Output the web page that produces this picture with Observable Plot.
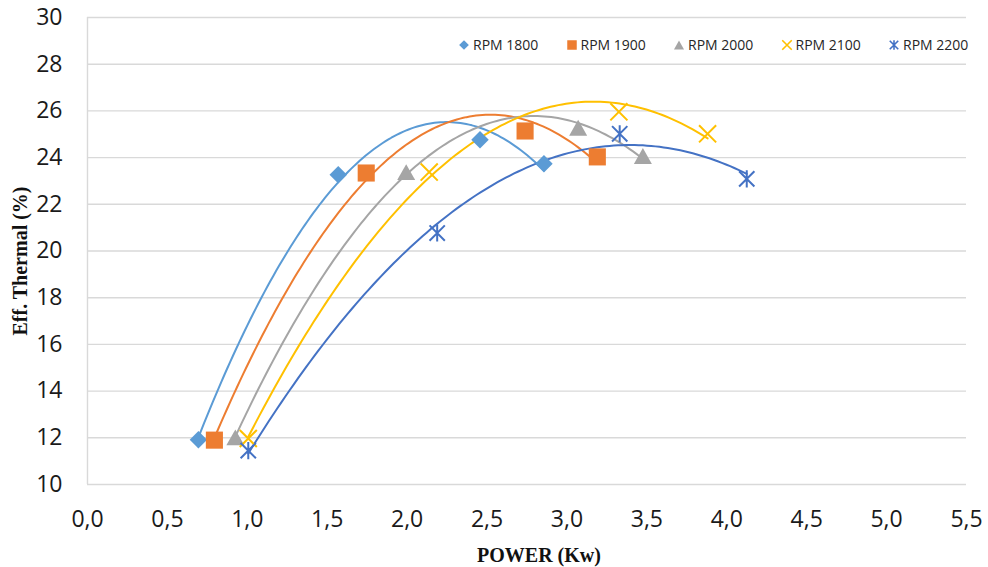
<!DOCTYPE html>
<html>
<head>
<meta charset="utf-8">
<script src="https://cdn.jsdelivr.net/npm/d3@7"></script>
<script src="https://cdn.jsdelivr.net/npm/@observablehq/plot@0.6"></script>
<style>
  body { margin: 0; background: #fff; }
  #chart { position: relative; width: 988px; height: 567px; }
  #legend { position: absolute; top: 35px; left: 459px; display: flex; font: 14px "Open Sans", sans-serif; color: #262626; }
  #legend .item { width: 107.5px; display: flex; align-items: center; white-space: nowrap; }
  #legend svg { margin-right: 4px; overflow: visible; }
</style>
</head>
<body>
<div id="chart"><div id="legend"></div></div>
<script>
// Thermal efficiency (%) against output power (kW), one series per engine speed
const rpmLabels = ["RPM 1800", "RPM 1900", "RPM 2000", "RPM 2100", "RPM 2200"];

const power1800 = [0.694, 1.569, 2.456, 2.856];
const eff1800   = [11.92, 23.27, 24.76, 23.74];

const power1900 = [0.794, 1.744, 2.738, 3.19];
const eff1900   = [11.90, 23.34, 25.14, 24.03];

const power2000 = [0.925, 1.994, 3.07, 3.475];
const eff2000   = [12.02, 23.38, 25.28, 24.07];

const power2100 = [1.006, 2.138, 3.325, 3.88];
const eff2100   = [11.97, 23.38, 25.96, 25.02];

const power2200 = [1.006, 2.188, 3.33, 4.125];
const eff2200   = [11.45, 20.77, 25.02, 23.09];

const seriesColors = ["#5B9BD5", "#ED7D31", "#A5A5A5", "#FFC000", "#4472C4"];

const xTicks = [0, 0.5, 1, 1.5, 2, 2.5, 3, 3.5, 4, 4.5, 5, 5.5];
const yTicks = [10, 12, 14, 16, 18, 20, 22, 24, 26, 28, 30];

// Marker shapes; the symbol size is πr², so r is recovered from it
const rad = (size) => Math.sqrt(size / Math.PI);
const symbols = {
  diamond: { draw(c, size) { const r = rad(size) * 0.97; c.moveTo(0, -r); c.lineTo(r, 0); c.lineTo(0, r); c.lineTo(-r, 0); c.closePath(); } },
  square: { draw(c, size) { const r = rad(size) * 0.95; c.rect(-r, -r, 2 * r, 2 * r); } },
  triangle: { draw(c, size) { const r = rad(size); c.moveTo(0, -0.88 * r); c.lineTo(r, 0.88 * r); c.lineTo(-r, 0.88 * r); c.closePath(); } },
  cross: { draw(c, size) { const r = rad(size) * 0.95; c.moveTo(-r, -r); c.lineTo(r, r); c.moveTo(-r, r); c.lineTo(r, -r); } },
  asterisk: { draw(c, size) { const r = rad(size), d = r * 0.85, v = r * 0.95; c.moveTo(-d, -d); c.lineTo(d, d); c.moveTo(-d, d); c.lineTo(d, -d); c.moveTo(0, -v); c.lineTo(0, v); } }
};

const series = [
  { name: rpmLabels[0], xs: power1800, ys: eff1800, color: seriesColors[0], symbol: symbols.diamond, filled: true },
  { name: rpmLabels[1], xs: power1900, ys: eff1900, color: seriesColors[1], symbol: symbols.square, filled: true },
  { name: rpmLabels[2], xs: power2000, ys: eff2000, color: seriesColors[2], symbol: symbols.triangle, filled: true },
  { name: rpmLabels[3], xs: power2100, ys: eff2100, color: seriesColors[3], symbol: symbols.cross, filled: false },
  { name: rpmLabels[4], xs: power2200, ys: eff2200, color: seriesColors[4], symbol: symbols.asterisk, filled: false }
];

// Second-order polynomial trendline by least squares
function quadFit(xs, ys) {
  let s0 = 0, s1 = 0, s2 = 0, s3 = 0, s4 = 0, t0 = 0, t1 = 0, t2 = 0;
  xs.forEach((x, i) => {
    const y = ys[i], x2 = x * x;
    s0 += 1; s1 += x; s2 += x2; s3 += x2 * x; s4 += x2 * x2;
    t0 += y; t1 += x * y; t2 += x2 * y;
  });
  const det3 = (m) =>
    m[0][0] * (m[1][1] * m[2][2] - m[1][2] * m[2][1]) -
    m[0][1] * (m[1][0] * m[2][2] - m[1][2] * m[2][0]) +
    m[0][2] * (m[1][0] * m[2][1] - m[1][1] * m[2][0]);
  const A = [[s0, s1, s2], [s1, s2, s3], [s2, s3, s4]];
  const b = [t0, t1, t2];
  const D = det3(A);
  const coef = [0, 1, 2].map((k) => det3(A.map((row, i) => row.map((v, j) => (j === k ? b[i] : v)))) / D);
  return (x) => coef[0] + coef[1] * x + coef[2] * x * x;
}

const points = series.flatMap((s) => s.xs.map((x, i) => ({ series: s.name, power: x, eff: s.ys[i] })));
const trends = series.flatMap((s) => {
  const f = quadFit(s.xs, s.ys);
  const x0 = d3.min(s.xs), x1 = d3.max(s.xs);
  return d3.range(0, 121).map((i) => {
    const x = x0 + (x1 - x0) * i / 120;
    return { series: s.name, power: x, eff: f(x) };
  });
});

const lineMarks = series.map((s) =>
  Plot.line(trends.filter((d) => d.series === s.name), { x: "power", y: "eff", stroke: s.color, strokeWidth: 2, curve: "linear" })
);
const dotMarks = series.map((s) =>
  Plot.dot(points.filter((d) => d.series === s.name), {
    x: "power", y: "eff", r: 9, symbol: s.symbol,
    fill: s.filled ? s.color : "none",
    stroke: s.filled ? "none" : s.color,
    strokeWidth: s.filled ? 0 : 2
  })
);

const chart = Plot.plot({
  width: 988,
  height: 567,
  marginLeft: 87,
  marginRight: 22,
  marginTop: 17,
  marginBottom: 83,
  x: { domain: [0, 5.5] },
  y: { domain: [10, 30] },
  style: { fontFamily: "'Open Sans', sans-serif", color: "#1a1a1a", background: "white" },
  marks: [
    Plot.ruleY(yTicks, { stroke: "#d9d9d9", strokeWidth: 1.4 }),
    Plot.ruleX([0], { stroke: "#d9d9d9", strokeWidth: 1.4 }),
    Plot.axisY(yTicks, { tickSize: 0, tickPadding: 25, label: null, fontSize: 23 }),
    Plot.axisX(xTicks, { tickSize: 0, tickPadding: 26, label: null, fontSize: 23, tickFormat: (d) => d.toFixed(1).replace(".", ",") }),
    ...lineMarks,
    ...dotMarks,
    Plot.text(["Eff. Thermal (%)"], {
      frameAnchor: "left", textAnchor: "middle", lineAnchor: "middle", rotate: -90, dx: -67, dy: 10,
      fontFamily: "'Liberation Serif', serif", fontWeight: "bold", fontSize: 20, fill: "#111"
    }),
    Plot.text(["POWER (Kw)"], {
      frameAnchor: "bottom", textAnchor: "middle", lineAnchor: "middle", dx: 12, dy: 71,
      fontFamily: "'Liberation Serif', serif", fontWeight: "bold", fontSize: 20, fill: "#111"
    })
  ]
});

const container = document.getElementById("chart");
container.insertBefore(chart, container.firstChild);

// Legend row drawn over the plot area
const legend = document.getElementById("legend");
series.forEach((s) => {
  const item = document.createElement("div");
  item.className = "item";
  const pathD = d3.symbol().type(s.symbol).size(Math.PI * 5 * 5)();
  const filled = s.filled;
  item.innerHTML =
    `<svg width="10" height="10" viewBox="-5 -5 10 10"><path d="${pathD}" fill="${filled ? s.color : "none"}" stroke="${filled ? "none" : s.color}" stroke-width="${filled ? 0 : 1.6}"></path></svg>` +
    `<span>${s.name}</span>`;
  legend.appendChild(item);
});
</script>
</body>
</html>
